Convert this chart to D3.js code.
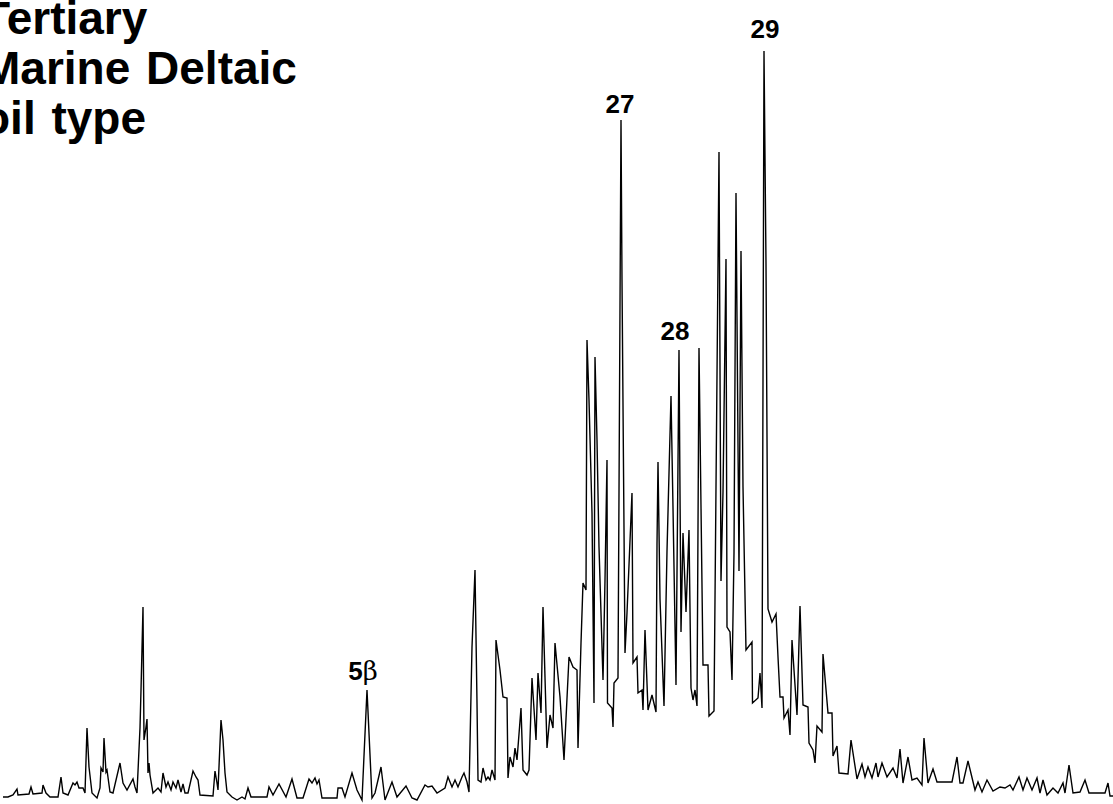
<!DOCTYPE html>
<html>
<head>
<meta charset="utf-8">
<script src="https://cdn.jsdelivr.net/npm/d3@7"></script>
<style>
    body { margin: 0; background: #fff; }
    svg { display: block; }
</style>
</head>
<body>
<div id="graph"></div>
<script>
// scan positions (retention axis, arbitrary units)
var scan = [
    3, 8, 13, 17, 18, 29, 31, 33, 42, 43, 46, 50, 58, 61, 63, 68, 73, 75, 77, 79,
    83, 85, 87, 89, 92, 97, 100, 101, 103, 104, 106, 107, 110, 113, 120, 123, 127, 133, 135, 137,
    140, 141, 143, 144, 146, 147, 148, 149, 150, 153, 158, 161, 163, 166, 168, 171, 173, 176, 178, 181,
    183, 185, 188, 193, 196, 198, 200, 213, 215, 217, 218, 221, 223, 225, 227, 232, 237, 242, 245, 248,
    251, 267, 269, 273, 279, 286, 292, 297, 303, 309, 312, 315, 317, 319, 322, 337, 338, 342, 345, 352,
    357, 362, 367, 372, 375, 381, 385, 392, 397, 406, 412, 417, 425, 428, 432, 437, 445, 448, 452, 455,
    458, 462, 464, 467, 469, 472, 475, 477, 478, 481, 483, 486, 488, 490, 492, 495, 496, 500, 503, 507,
    508, 510, 513, 515, 517, 521, 523, 527, 529, 532, 536, 538, 541, 543, 547, 550, 553, 555, 560, 564,
    569, 573, 577, 578, 581, 583, 586, 587, 589, 592, 594, 595, 597, 599, 603, 605, 607, 607.5, 612, 613,
    614, 618, 621, 622, 625, 627, 632, 633, 637, 638, 642, 643, 645, 648, 652, 656, 657, 658, 660, 664,
    667, 671, 673, 676, 679, 681, 683, 686, 689, 691, 693, 695, 697, 699, 703, 708, 709, 714, 719, 721,
    723, 726, 727, 730, 732, 734, 736, 739, 741, 743, 746, 752, 752.5, 758, 760, 762, 764, 766, 768, 772,
    776, 778, 780, 783, 784, 788, 790, 792, 797, 800, 803, 808, 809, 813, 815, 817, 822, 823, 828, 832,
    833, 837, 839, 848, 851, 857, 862, 865, 868, 872, 876, 878, 882, 887, 893, 897, 900, 903, 908, 912,
    917, 922, 924, 928, 933, 937, 952, 957, 960, 963, 968, 975, 978, 982, 987, 993, 1000, 1005, 1010, 1013,
    1019, 1023, 1027, 1032, 1037, 1040, 1043, 1047, 1053, 1058, 1063, 1065, 1069, 1073, 1080, 1085, 1089, 1105, 1108, 1110,
    1113
];

// detector response at each scan
var abundance = [
    0, 0, 2, 8, 2, 3, 10, 3, 4, 12, 4, 0, 0, 20, 4, 2, 14, 12, 15, 9,
    9, 4, 69, 30, 4, -1, 9, 29, 25, 59, 25, 27, 5, 4, 34, 14, 7, 18, 10, 4,
    69, 107, 190, 57, 70, 78, 24, 34, 22, 4, 9, 5, 24, 10, 15, 7, 15, 9, 17, 5,
    13, 4, 4, 26, 20, 17, 2, 1, 26, 14, 7, 77, 57, 24, 5, 0, -3, 0, -2, 9,
    0, 0, 10, 2, 13, 0, 18, -1, -1, 18, 14, 19, 13, 17, -1, -1, 9, 9, 0, 24,
    7, -3, 107, -1, 4, 30, -3, 15, 0, 11, -1, -3, 12, 10, 11, 4, 9, 20, 10, 17,
    10, 20, 24, 15, 5, 150, 227, 94, 17, 15, 29, 17, 20, 17, 27, 17, 157, 127, 100, 99,
    19, 40, 30, 49, 37, 89, 27, 22, 27, 119, 57, 124, 84, 190, 49, 82, 69, 154, 100, 37,
    140, 130, 127, 49, 154, 214, 207, 457, 397, 284, 94, 440, 357, 250, 117, 217, 337, 94, 89, 70,
    114, 119, 677, 517, 144, 184, 304, 134, 140, 104, 107, 87, 167, 87, 102, 85, 252, 335, 198, 91,
    246, 401, 289, 112, 447, 165, 264, 185, 267, 109, 97, 107, 91, 449, 132, 132, 81, 86, 645, 216,
    305, 538, 170, 165, 117, 244, 604, 226, 546, 310, 147, 155, 94, 99, 124, 89, 746, 533, 188, 175,
    183, 140, 100, 100, 79, 87, 62, 157, 82, 191, 92, 90, 54, 47, 34, 71, 65, 143, 84, 84,
    41, 51, 24, 23, 57, 18, 33, 20, 30, 19, 34, 20, 34, 20, 29, 19, 48, 14, 40, 17,
    19, 12, 59, 14, 28, 15, 15, 40, 14, 14, 36, 7, 15, 5, 17, 6, 10, 9, 12, 7,
    20, 7, 19, 7, 19, 4, 17, 2, 9, 4, 14, 4, 32, 4, 5, 17, 4, 4, 14, 1,
    1
];

// labelled peaks
var peakNames = ["5", "27", "28", "29"];
var peakScans = [363, 620, 675, 765];
var peakLabelHeights = [117, 684, 457, 759];

var titleLines = ["Tertiary", "Marine Deltaic", "oil type"];

var width = 1113,
    height = 804,
    baseline = 797;

var svg = d3.select("#graph")
    .append("svg")
    .attr("width", width)
    .attr("height", height);

var x = d3.scaleLinear()
    .domain([0, 1113])
    .range([0, width]);

var y = d3.scaleLinear()
    .domain([0, 797])
    .range([baseline, 0]);

var points = scan.map(function (s, i) {
    return [s, abundance[i]];
});

var line = d3.line()
    .x(function (d) { return x(d[0]); })
    .y(function (d) { return y(d[1]); });

svg.append("path")
    .datum(points)
    .attr("fill", "none")
    .attr("stroke", "#000")
    .attr("stroke-width", 1.4)
    .attr("stroke-linejoin", "miter")
    .attr("d", line);

// peak numbers
var labels = svg.selectAll("text.peak")
    .data(peakNames)
    .enter()
    .append("text")
    .attr("class", "peak")
    .attr("x", function (d, i) { return x(peakScans[i]); })
    .attr("y", function (d, i) { return y(peakLabelHeights[i]); })
    .attr("text-anchor", "middle")
    .attr("font-family", "'Liberation Sans', Arial, sans-serif")
    .attr("font-weight", "bold")
    .attr("font-size", 26)
    .text(function (d) { return d; });

// 5 beta gets a plain greek letter
labels.filter(function (d) { return d === "5"; })
    .append("tspan")
    .attr("font-weight", "normal")
    .attr("font-family", "'DejaVu Serif', serif")
    .attr("font-size", 26)
    .text("\u03b2");

// title, left part runs off the page
svg.selectAll("text.title")
    .data(titleLines)
    .enter()
    .append("text")
    .attr("class", "title")
    .attr("x", -18)
    .attr("y", function (d, i) { return 34 + i * 50; })
    .attr("font-family", "'Liberation Sans', Arial, sans-serif")
    .attr("font-weight", "bold")
    .attr("font-size", 46)
    .attr("word-spacing", 3)
    .text(function (d) { return d; });
</script>
</body>
</html>
